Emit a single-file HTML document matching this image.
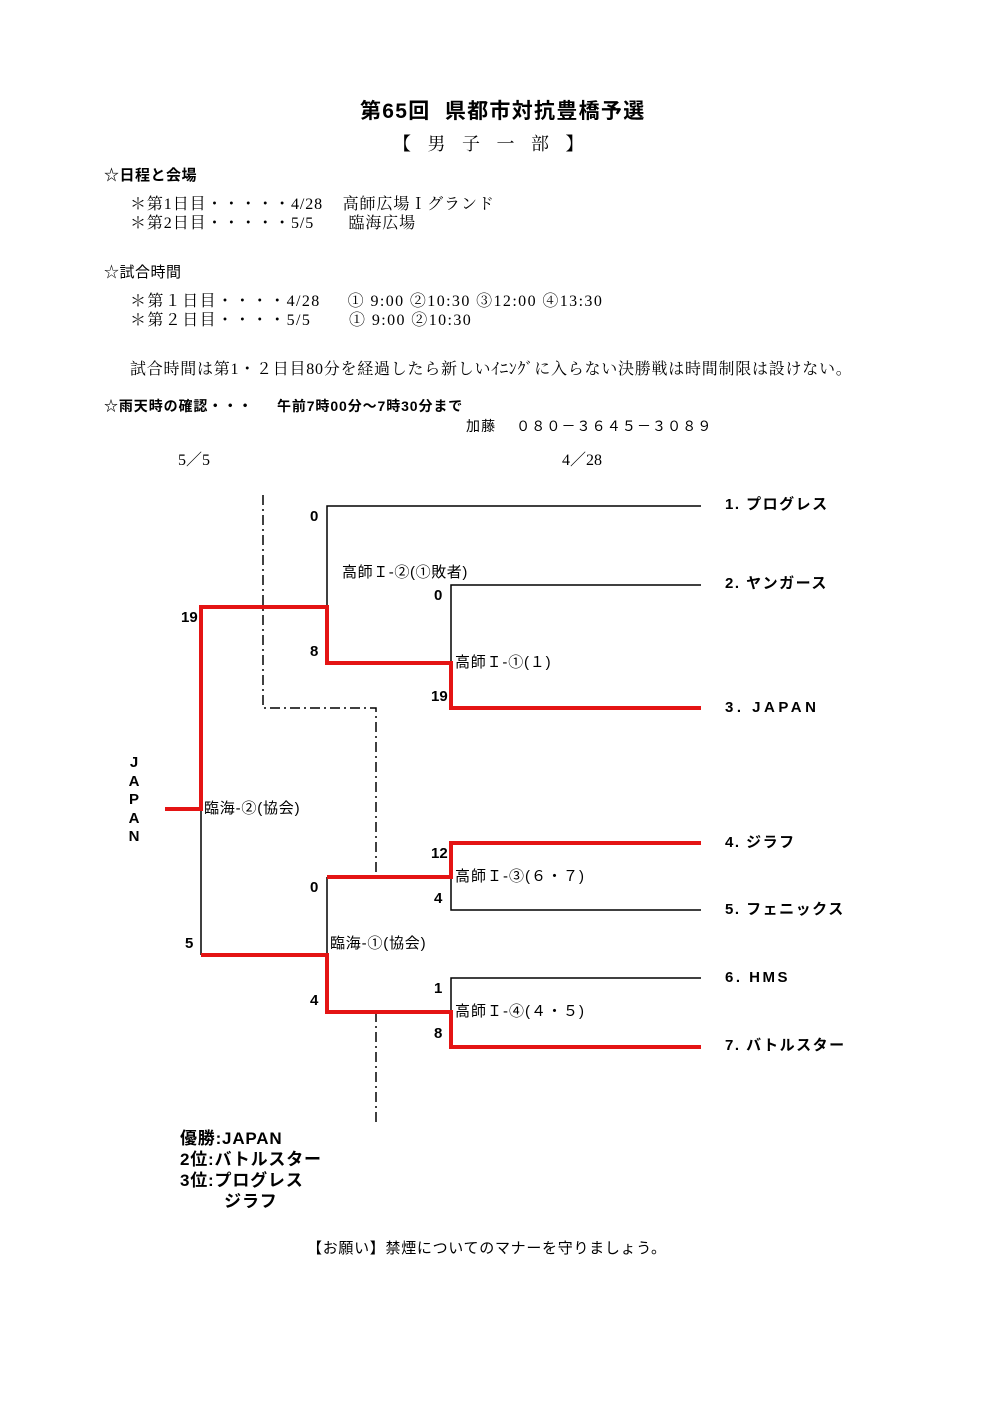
<!DOCTYPE html>
<html><head><meta charset="utf-8"><style>
body{margin:0;width:992px;height:1404px;background:#fff;position:relative;font-family:"Liberation Sans","Noto Sans CJK JP",sans-serif;color:#000;overflow:hidden}
.t{position:absolute;white-space:nowrap;line-height:1}
.s{font-family:"Liberation Serif","Noto Serif CJK SC",serif}
.b{font-weight:bold}
</style></head><body>
<div class="t b" style="left:360px;top:101px;font-size:21px;letter-spacing:1.3px">第65回&nbsp; 県都市対抗豊橋予選</div>
<div class="t s" style="left:393px;top:135px;font-size:18px;letter-spacing:6px">【 男 子 一 部 】</div>
<div class="t b" style="left:104px;top:168px;font-size:15px;letter-spacing:0.5px">☆日程と会場</div>
<div class="t s" style="left:130px;top:197px;font-size:16px;letter-spacing:0.9px">＊第1日目・・・・・4/28&nbsp;&nbsp;&nbsp; 高師広場Ｉグランド</div>
<div class="t s" style="left:130px;top:216px;font-size:16px;letter-spacing:0.9px">＊第2日目・・・・・5/5&nbsp;&nbsp;&nbsp;&nbsp;&nbsp;&nbsp; 臨海広場</div>
<div class="t" style="left:104px;top:265px;font-size:15px;letter-spacing:0.5px">☆試合時間</div>
<div class="t s" style="left:130px;top:294px;font-size:16px;letter-spacing:1.4px">＊第１日目・・・・4/28&nbsp;&nbsp;&nbsp;&nbsp; ① 9:00 ②10:30 ③12:00 ④13:30</div>
<div class="t s" style="left:130px;top:313px;font-size:16px;letter-spacing:1.4px">＊第２日目・・・・5/5&nbsp;&nbsp;&nbsp;&nbsp;&nbsp;&nbsp; ① 9:00 ②10:30</div>
<div class="t s" style="left:130px;top:362px;font-size:16px;letter-spacing:0.75px">試合時間は第1・２日目80分を経過したら新しいｲﾆﾝｸﾞに入らない決勝戦は時間制限は設けない。</div>
<div class="t b" style="left:104px;top:399px;font-size:14px;letter-spacing:0.9px">☆雨天時の確認・・・&nbsp;&nbsp;&nbsp;&nbsp; 午前7時00分～7時30分まで</div>
<div class="t" style="left:466px;top:419px;font-size:14px;letter-spacing:1.1px">加藤&nbsp;&nbsp;&nbsp; ０８０－３６４５－３０８９</div>
<div class="t s" style="left:178px;top:453px;font-size:16px">5／5</div>
<div class="t s" style="left:562px;top:453px;font-size:16px">4／28</div>

<svg style="position:absolute;left:0;top:0" width="992" height="1404">
<g stroke="#000" stroke-width="1.5" fill="none">
<polyline points="701,506 327,506 327,607"/>
<polyline points="701,585 451,585 451,663"/>
<line x1="201" y1="809" x2="201" y2="955"/>
<line x1="327" y1="877" x2="327" y2="955"/>
<polyline points="451,877 451,910 701,910"/>
<polyline points="701,978 451,978 451,1012"/>
<g stroke-dasharray="10,4,2,4">
<polyline points="263,495 263,708 376,708 376,877"/>
<line x1="376" y1="1012" x2="376" y2="1122"/>
</g></g>
<g stroke="#e41414" stroke-width="4" fill="none">
<polyline points="165,809 201,809 201,607 327,607 327,663 451,663 451,708 701,708"/>
<polyline points="201,955 327,955 327,1012 451,1012 451,1047 701,1047"/>
<polyline points="327,877 451,877 451,843 701,843"/>
</g></svg>

<div class="t b" style="left:310px;top:509px;font-size:15px">0</div>
<div class="t" style="left:342px;top:565px;font-size:15px;letter-spacing:0.6px">高師Ｉ-②(①敗者)</div>
<div class="t b" style="left:434px;top:588px;font-size:15px">0</div>
<div class="t b" style="left:181px;top:610px;font-size:15px">19</div>
<div class="t b" style="left:310px;top:644px;font-size:15px">8</div>
<div class="t" style="left:455px;top:655px;font-size:15px;letter-spacing:0.8px">高師Ｉ-①(１)</div>
<div class="t b" style="left:431px;top:689px;font-size:15px">19</div>
<div class="t" style="left:204px;top:801px;font-size:15px;letter-spacing:0.8px">臨海-②(協会)</div>
<div class="t b" style="left:431px;top:846px;font-size:15px">12</div>
<div class="t" style="left:455px;top:869px;font-size:15px;letter-spacing:1px">高師Ｉ-③(６・７)</div>
<div class="t b" style="left:310px;top:880px;font-size:15px">0</div>
<div class="t b" style="left:434px;top:891px;font-size:15px">4</div>
<div class="t" style="left:330px;top:936px;font-size:15px;letter-spacing:0.8px">臨海-①(協会)</div>
<div class="t b" style="left:185px;top:936px;font-size:15px">5</div>
<div class="t b" style="left:434px;top:981px;font-size:15px">1</div>
<div class="t b" style="left:310px;top:993px;font-size:15px">4</div>
<div class="t" style="left:455px;top:1004px;font-size:15px;letter-spacing:1px">高師Ｉ-④(４・５)</div>
<div class="t b" style="left:434px;top:1026px;font-size:15px">8</div>

<div class="t b" style="left:127px;top:754px;font-size:15px;line-height:18.5px;white-space:normal;width:14px;text-align:center">J<br>A<br>P<br>A<br>N</div>

<div class="t b" style="left:725px;top:497px;font-size:15px;letter-spacing:1.5px">1. プログレス</div>
<div class="t b" style="left:725px;top:576px;font-size:15px;letter-spacing:1.5px">2. ヤンガース</div>
<div class="t b" style="left:725px;top:700px;font-size:15px;letter-spacing:3.5px">3. JAPAN</div>
<div class="t b" style="left:725px;top:835px;font-size:15px;letter-spacing:1.5px">4. ジラフ</div>
<div class="t b" style="left:725px;top:902px;font-size:15px;letter-spacing:1.5px">5. フェニックス</div>
<div class="t b" style="left:725px;top:970px;font-size:15px;letter-spacing:2.5px">6. HMS</div>
<div class="t b" style="left:725px;top:1038px;font-size:15px;letter-spacing:1.5px">7. バトルスター</div>

<div class="t b" style="left:180px;top:1128px;font-size:17px;line-height:21px;letter-spacing:0.8px">優勝:JAPAN<br>2位:バトルスター<br>3位:プログレス<br>&nbsp;&nbsp;&nbsp;&nbsp;&nbsp;&nbsp;&nbsp;&nbsp;ジラフ</div>
<div class="t" style="left:307px;top:1241px;font-size:15px;letter-spacing:0.7px">【お願い】禁煙についてのマナーを守りましょう。</div>
</body></html>
